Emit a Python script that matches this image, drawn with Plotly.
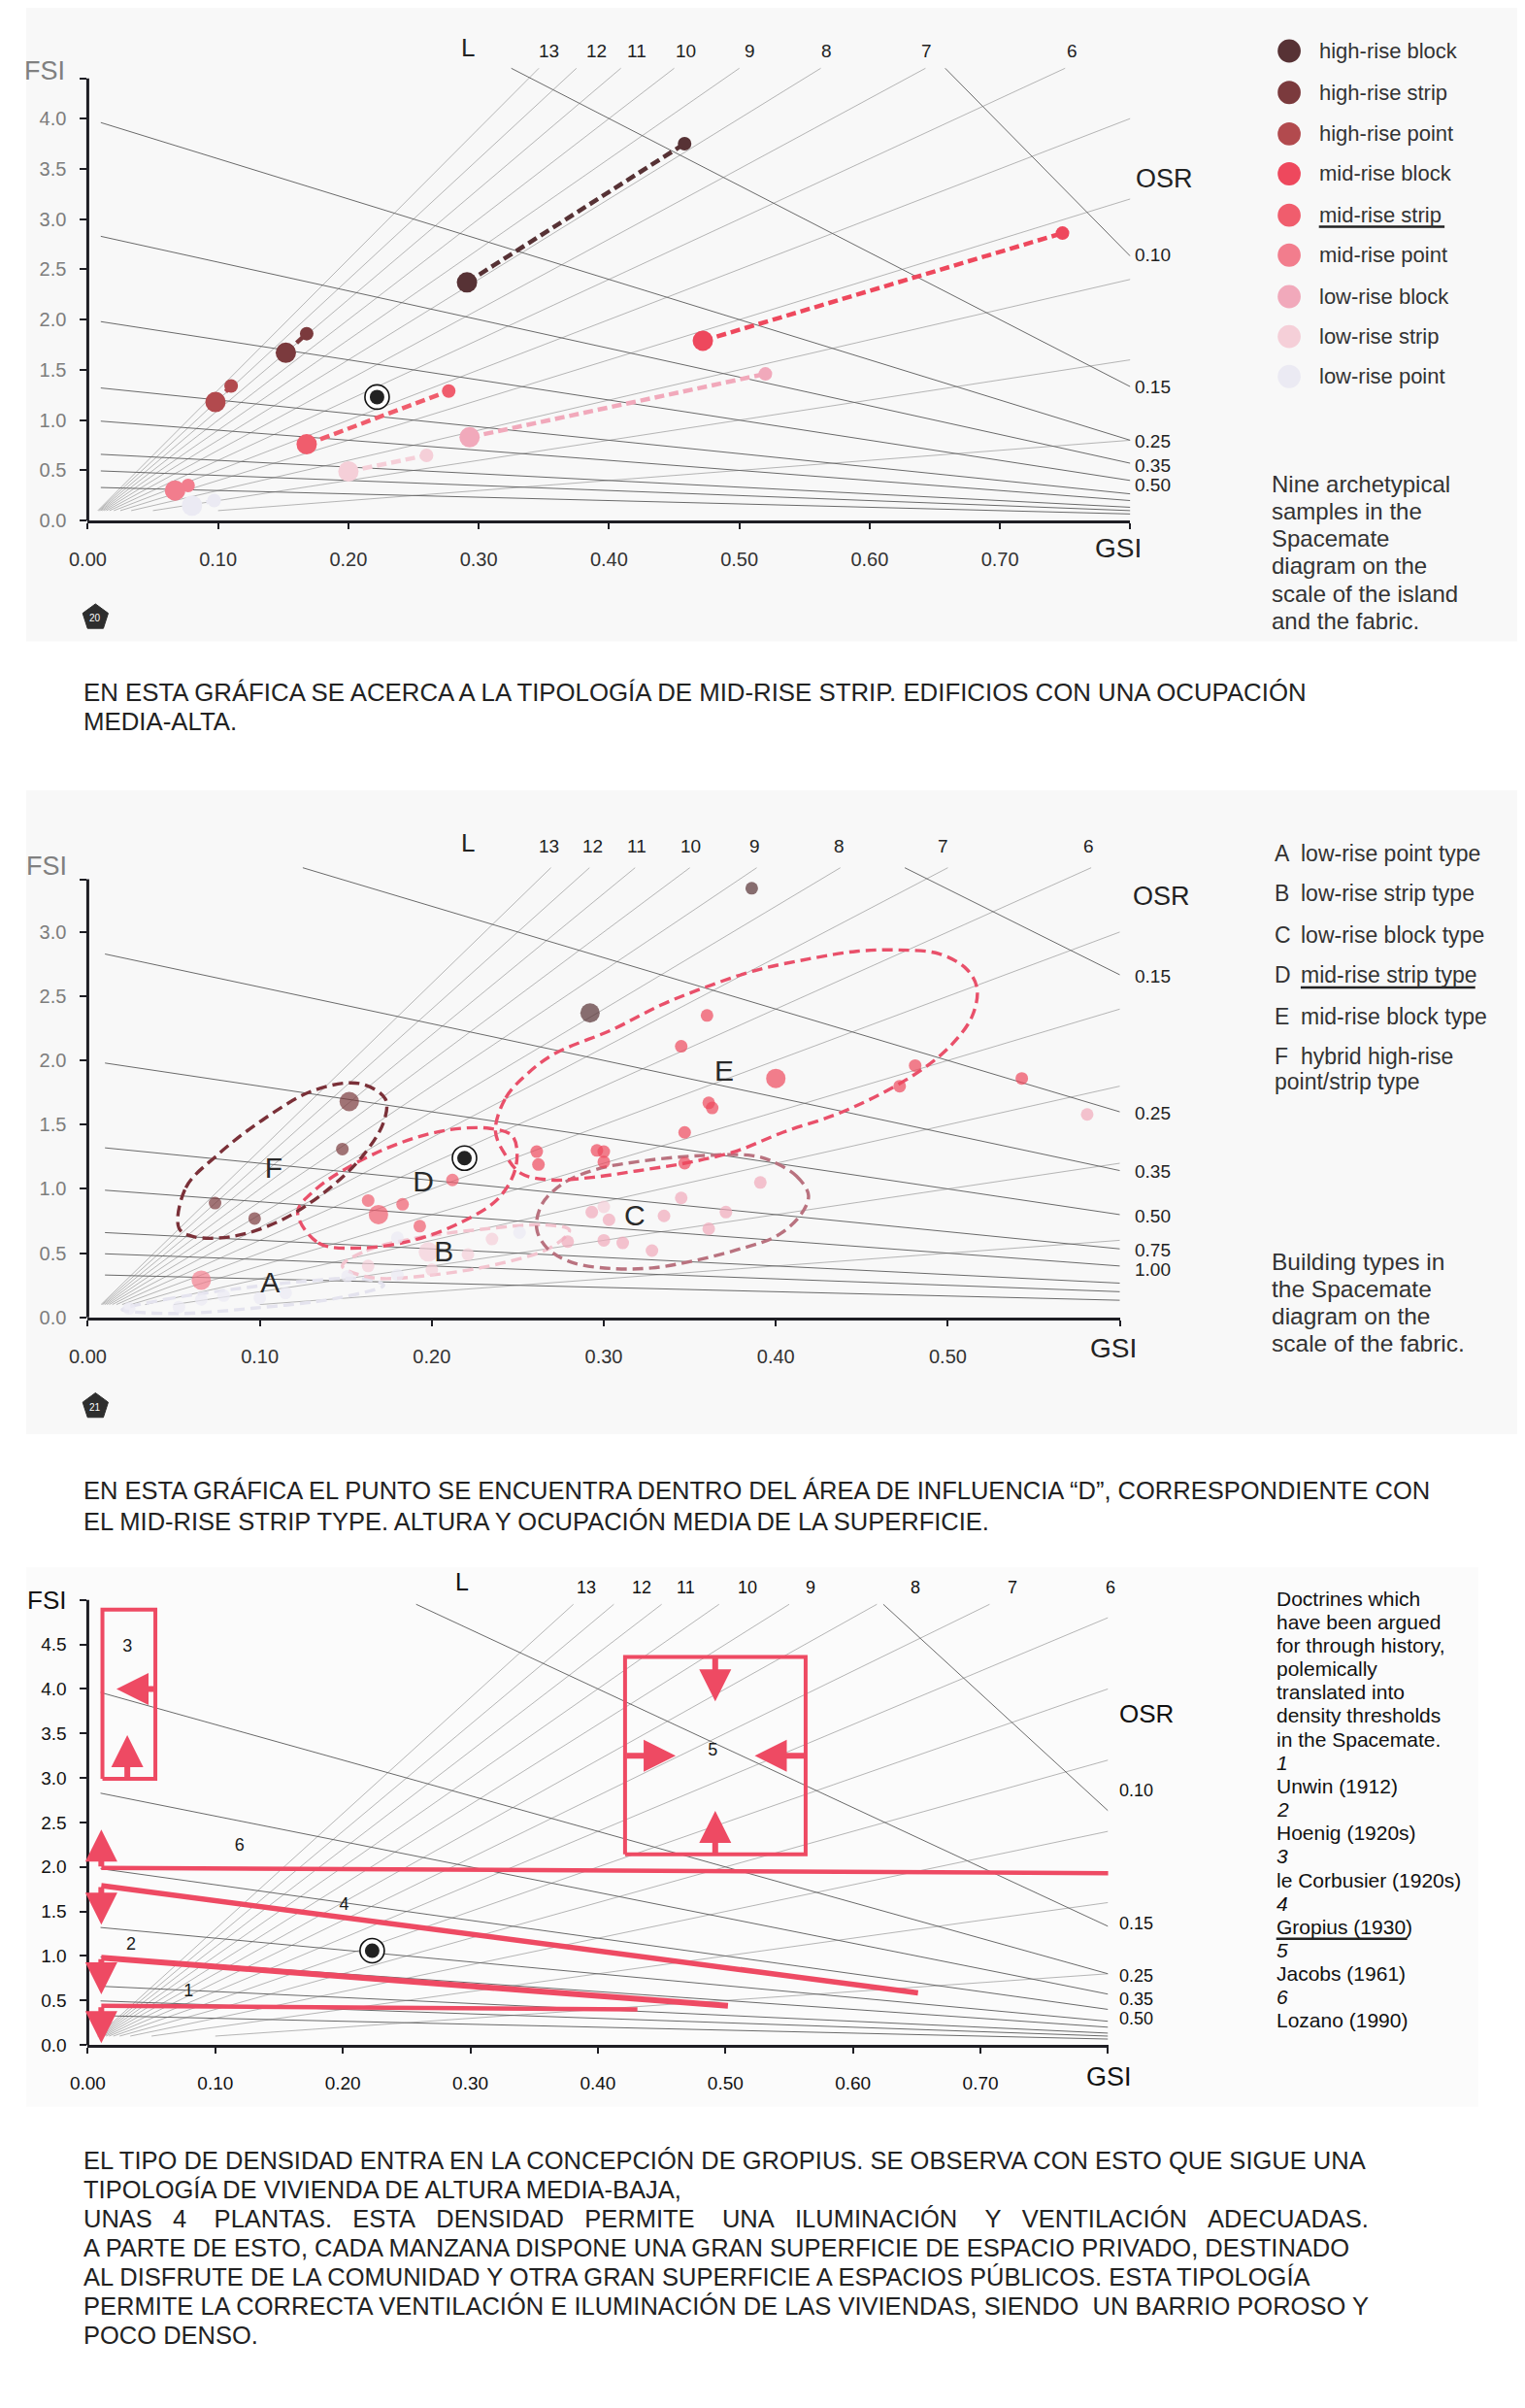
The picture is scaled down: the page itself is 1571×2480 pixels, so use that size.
import numpy as np
import plotly.graph_objects as go

W, H = 1571, 2480
FONT = "Liberation Sans, Arial, Helvetica, sans-serif"

# ======================= DATA =======================
L_VALUES = [1, 2, 3, 4, 5, 6, 7, 8, 9, 10, 11, 12, 13]
L_TOP_LABELS = ["13", "12", "11", "10", "9", "8", "7", "6"]

OSR_P1 = [0.076, 0.15, 0.25, 0.35, 0.50, 0.75, 1.0, 1.5, 2.0, 3.0]
OSR_P2 = [0.15, 0.25, 0.35, 0.50, 0.75, 1.0, 1.5, 2.0, 3.0]
OSR_P3 = [0.076, 0.15, 0.25, 0.35, 0.50, 0.75, 1.0, 1.5, 2.0, 3.0]
OSR_LABELS_P1 = ["0.10", "0.15", "0.25", "0.35", "0.50"]
OSR_LABELS_P2 = ["0.15", "0.25", "0.35", "0.50", "0.75", "1.00"]
OSR_LABELS_P3 = ["0.10", "0.15", "0.25", "0.35", "0.50"]

GSI_TICKS_P1 = [0.0, 0.1, 0.2, 0.3, 0.4, 0.5, 0.6, 0.7, 0.8]
GSI_TICKTEXT_P1 = ["0.00", "0.10", "0.20", "0.30", "0.40", "0.50", "0.60", "0.70", ""]
GSI_TICKS_P2 = [0.0, 0.1, 0.2, 0.3, 0.4, 0.5, 0.6]
GSI_TICKTEXT_P2 = ["0.00", "0.10", "0.20", "0.30", "0.40", "0.50", ""]
FSI_TICKS_P1 = [0.0, 0.5, 1.0, 1.5, 2.0, 2.5, 3.0, 3.5, 4.0, 4.4]
FSI_TICKTEXT_P1 = ["0.0", "0.5", "1.0", "1.5", "2.0", "2.5", "3.0", "3.5", "4.0", ""]
FSI_TICKS_P2 = [0.0, 0.5, 1.0, 1.5, 2.0, 2.5, 3.0, 3.41]
FSI_TICKTEXT_P2 = ["0.0", "0.5", "1.0", "1.5", "2.0", "2.5", "3.0", ""]
FSI_TICKS_P3 = [0.0, 0.5, 1.0, 1.5, 2.0, 2.5, 3.0, 3.5, 4.0, 4.5, 5.0]
FSI_TICKTEXT_P3 = ["0.0", "0.5", "1.0", "1.5", "2.0", "2.5", "3.0", "3.5", "4.0", "4.5", ""]

TYPES = ["high-rise block", "high-rise strip", "high-rise point",
         "mid-rise block", "mid-rise strip", "mid-rise point",
         "low-rise block", "low-rise strip", "low-rise point"]
TYPE_COLORS = ["#573235", "#7b3a3d", "#b24a4e", "#ee485d", "#f05d6d",
               "#f27d8d", "#f1a9bb", "#f5cfd8", "#ebeaf3"]

# Panel 1: nine archetypes, island (large) and fabric (small) scale
P1_GSI_ISLAND = [0.291, 0.152, 0.098, 0.472, 0.168, 0.067, 0.293, 0.200, 0.080]
P1_FSI_ISLAND = [2.37, 1.67, 1.18, 1.79, 0.76, 0.30, 0.83, 0.49, 0.15]
P1_GSI_FABRIC = [0.458, 0.168, 0.110, 0.748, 0.277, 0.077, 0.520, 0.260, 0.097]
P1_FSI_FABRIC = [3.75, 1.86, 1.34, 2.86, 1.29, 0.35, 1.46, 0.65, 0.20]

TARGET_GSI = [0.222, 0.219, 0.223]
TARGET_FSI = [1.23, 1.24, 1.06]

# Panel 2: building samples per type (first entry is the large marker where present)
P2_GSI = [
    [0.292, 0.386],
    [0.152, 0.148, 0.074, 0.097],
    [],
    [0.400, 0.360, 0.345, 0.361, 0.363, 0.347, 0.347, 0.481, 0.472, 0.543,
     0.261, 0.262, 0.296, 0.300, 0.300],
    [0.169, 0.212, 0.163, 0.183, 0.193],
    [0.066],
    [0.391, 0.293, 0.303, 0.279, 0.300, 0.311, 0.345, 0.371, 0.335, 0.361, 0.328, 0.581],
    [0.198, 0.235, 0.221, 0.200, 0.163, 0.300],
    [0.079, 0.251, 0.180, 0.180, 0.151, 0.066, 0.053, 0.024, 0.115, 0.100],
]
P2_FSI = [
    [2.37, 3.34],
    [1.68, 1.31, 0.89, 0.77],
    [],
    [1.86, 2.35, 2.11, 1.67, 1.63, 1.44, 1.20, 1.96, 1.80, 1.86,
     1.29, 1.19, 1.30, 1.29, 1.21],
    [0.80, 1.07, 0.91, 0.88, 0.71],
    [0.29],
    [1.05, 0.82, 0.76, 0.59, 0.60, 0.58, 0.93, 0.82, 0.79, 0.69, 0.52, 1.58],
    [0.51, 0.61, 0.49, 0.37, 0.40, 0.86],
    [0.17, 0.66, 0.62, 0.33, 0.32, 0.14, 0.08, 0.07, 0.19, 0.15],
]
P2_HAS_LARGE = [True, True, False, True, True, True, False, True, False]

# Panel 2: type areas (outline points)
GROUP_NAMES = ["A", "B", "C", "D", "E", "F"]
GROUP_COLORS = ["#e4e3ee", "#f3c4cf", "#b9727f", "#e9506a", "#e9506a", "#7a3038"]
GROUP_GSI = [
    [0.020, 0.045, 0.085, 0.125, 0.160, 0.172, 0.145, 0.095, 0.050],
    [0.148, 0.162, 0.192, 0.232, 0.266, 0.280, 0.270, 0.240, 0.200, 0.165],
    [0.397, 0.412, 0.419, 0.414, 0.400, 0.381, 0.352, 0.328, 0.305, 0.281,
     0.267, 0.261, 0.264, 0.276, 0.295, 0.324, 0.357, 0.386],
    [0.122, 0.134, 0.158, 0.189, 0.217, 0.239, 0.249, 0.247, 0.234, 0.210,
     0.182, 0.153, 0.132],
    [0.237, 0.243, 0.255, 0.271, 0.305, 0.333, 0.359, 0.388, 0.419, 0.447,
     0.471, 0.495, 0.511, 0.517, 0.514, 0.502, 0.485, 0.461, 0.435, 0.404,
     0.376, 0.347, 0.319, 0.293, 0.269, 0.252, 0.243],
    [0.053, 0.057, 0.075, 0.103, 0.132, 0.158, 0.173, 0.172, 0.160, 0.141,
     0.113, 0.084, 0.061],
]
GROUP_FSI = [
    [0.06, 0.14, 0.22, 0.28, 0.30, 0.25, 0.15, 0.07, 0.03],
    [0.40, 0.52, 0.62, 0.69, 0.72, 0.68, 0.55, 0.42, 0.33, 0.31],
    [1.22, 1.10, 0.95, 0.79, 0.63, 0.54, 0.44, 0.385, 0.38, 0.43,
     0.54, 0.69, 0.88, 1.04, 1.15, 1.22, 1.26, 1.26],
    [0.82, 0.58, 0.54, 0.60, 0.74, 0.93, 1.18, 1.41, 1.47, 1.46,
     1.36, 1.18, 0.99],
    [1.45, 1.71, 1.89, 2.05, 2.24, 2.43, 2.57, 2.70, 2.79, 2.85,
     2.86, 2.83, 2.71, 2.56, 2.34, 2.12, 1.93, 1.74, 1.58, 1.44,
     1.29, 1.20, 1.14, 1.09, 1.07, 1.12, 1.26],
    [0.695, 1.01, 1.26, 1.55, 1.77, 1.82, 1.70, 1.52, 1.26, 1.01,
     0.76, 0.63, 0.63],
]
GROUP_LABEL_GSI = [0.106, 0.207, 0.318, 0.195, 0.370, 0.108]
GROUP_LABEL_FSI = [0.25, 0.49, 0.77, 1.04, 1.90, 1.14]
GROUP_LEGEND = ["low-rise point type", "low-rise strip type", "low-rise block type",
                "mid-rise strip type", "mid-rise block type", "hybrid high-rise"]

# Panel 3: doctrines
DOCTRINES = ["Unwin (1912)", "Hoenig (1920s)", "le Corbusier (1920s)",
             "Gropius (1930)", "Jacobs (1961)", "Lozano (1990)"]
DOC_LINE_GSI = [[0.0106, 0.431], [0.0106, 0.502], [0.0106, 0.651], [0.0106, 0.804]]
DOC_LINE_FSI = [[0.44, 0.40], [0.98, 0.44], [1.79, 0.585], [1.99, 1.93]]
DOC_LINE_WIDTH = [4.5, 6.0, 5.5, 4.5]
DOC_RECT_GSI = [[0.0115, 0.053], [0.4213, 0.5629]]   # le Corbusier, Jacobs
DOC_RECT_FSI = [[2.99, 4.89], [2.143, 4.358]]
ARROW_TAIL_GSI = [0.0106, 0.0106, 0.0106, 0.0106, 0.053, 0.031, 0.492, 0.492, 0.4213, 0.5629]
ARROW_TAIL_FSI = [0.44, 0.98, 1.79, 1.99, 4.0, 2.96, 4.358, 2.143, 3.25, 3.25]
ARROW_TIP_GSI = [0.0106, 0.0106, 0.0106, 0.0106, 0.0225, 0.031, 0.492, 0.492, 0.461, 0.523]
ARROW_TIP_FSI = [0.02, 0.57, 1.35, 2.42, 4.0, 3.48, 3.86, 2.63, 3.25, 3.25]
DOC_NUM = ["1", "2", "3", "4", "5", "6"]
DOC_NUM_GSI = [0.079, 0.034, 0.031, 0.201, 0.490, 0.119]
DOC_NUM_FSI = [0.60, 1.12, 4.47, 1.57, 3.30, 2.23]

TEXT1 = ["EN ESTA GRÁFICA SE ACERCA A LA TIPOLOGÍA DE MID-RISE STRIP. EDIFICIOS CON UNA OCUPACIÓN",
         "MEDIA-ALTA."]
TEXT2 = ["EN ESTA GRÁFICA EL PUNTO SE ENCUENTRA DENTRO DEL ÁREA DE INFLUENCIA “D”, CORRESPONDIENTE CON",
         "EL MID-RISE STRIP TYPE. ALTURA Y OCUPACIÓN MEDIA DE LA SUPERFICIE."]
NB = "\u00a0"
JUST_WORDS = ["UNAS", "4", "PLANTAS.", "ESTA", "DENSIDAD", "PERMITE", "UNA",
              "ILUMINACIÓN", "Y", "VENTILACIÓN", "ADECUADAS."]
JUST_GAPS = [3, 4, 3, 3, 3, 4, 3, 4, 3, 3]
just_line = JUST_WORDS[0]
for w_, g_ in zip(JUST_WORDS[1:], JUST_GAPS):
    just_line += NB * g_ + w_
TEXT3 = ["EL TIPO DE DENSIDAD ENTRA EN LA CONCEPCIÓN DE GROPIUS. SE OBSERVA CON ESTO QUE SIGUE UNA",
         "TIPOLOGÍA DE VIVIENDA DE ALTURA MEDIA-BAJA,",
         just_line,
         "A PARTE DE ESTO, CADA MANZANA DISPONE UNA GRAN SUPERFICIE DE ESPACIO PRIVADO, DESTINADO",
         "AL DISFRUTE DE LA COMUNIDAD Y OTRA GRAN SUPERFICIE A ESPACIOS PÚBLICOS. ESTA TIPOLOGÍA",
         "PERMITE LA CORRECTA VENTILACIÓN E ILUMINACIÓN DE LAS VIVIENDAS, SIENDO" + NB + " UN BARRIO POROSO Y",
         "POCO DENSO."]

# ======================= LAYOUT HELPERS =======================
# page offset compensation (the page is shown with an offset)
DX, DY = -26.0, -8.5


def X(px):
    return (px + DX) / W


def Y(py):
    return 1 - (py + DY) / H


annotations = []
shapes = []
fig = go.Figure()


def add_text(text, x, y, size=20, color="#333333", xanchor="left", yanchor="middle"):
    annotations.append(dict(text=text, x=X(x), y=Y(y), xref="paper", yref="paper",
                            showarrow=False, xanchor=xanchor, yanchor=yanchor,
                            font=dict(size=size, color=color, family=FONT)))


PANELS = [
    dict(sfx="", x0=90.2, ux=1359.0, gmax=0.8, y0=539.1, uy=104.0, ymax=4.65,
         ftop=4.5, axtop=4.4, osr=OSR_P1, xt=GSI_TICKS_P1, xtt=GSI_TICKTEXT_P1,
         yt=FSI_TICKS_P1, ytt=FSI_TICKTEXT_P1, tsize=20, ycol="#7d7d7d", xcol="#333333"),
    dict(sfx="2", x0=90.2, ux=1794.0, gmax=0.6, y0=1363.3, uy=132.9, ymax=3.6,
         ftop=3.5, axtop=3.41, osr=OSR_P2, xt=GSI_TICKS_P2, xtt=GSI_TICKTEXT_P2,
         yt=FSI_TICKS_P2, ytt=FSI_TICKTEXT_P2, tsize=20, ycol="#7d7d7d", xcol="#333333"),
    dict(sfx="3", x0=90.2, ux=1330.0, gmax=0.8, y0=2116.0, uy=92.1, ymax=5.1,
         ftop=4.95, axtop=5.0, osr=OSR_P3, xt=GSI_TICKS_P1, xtt=GSI_TICKTEXT_P1,
         yt=FSI_TICKS_P3, ytt=FSI_TICKTEXT_P3, tsize=19, ycol="#111111", xcol="#111111"),
]

# backgrounds (scanned page tone)
for (ya, yb, xb, col) in [(0, 664, W + 40, "#f8f8f8"), (818, 1484, W + 40, "#f8f8f8"),
                          (1622, 2180, 1540, "#fbfbfb")]:
    shapes.append(dict(type="rect", xref="paper", yref="paper", x0=0, x1=X(xb), y0=Y(yb), y1=Y(ya),
                       line=dict(width=0), fillcolor=col, layer="below"))

layout_axes = {}
for p in PANELS:
    s = p["sfx"]
    xa, ya = "x" + s, "y" + s
    ybot = Y(p["y0"])
    ytop = Y(p["y0"] - p["ymax"] * p["uy"])
    layout_axes["xaxis" + s] = dict(
        domain=[X(p["x0"]), X(p["x0"] + p["gmax"] * p["ux"])], range=[0, p["gmax"] + 1e-4], anchor=ya,
        showgrid=False, zeroline=False, showline=True, linewidth=3, linecolor="#1e1e24",
        ticks="outside", ticklen=6, tickwidth=2, tickcolor="#1e1e24",
        tickvals=p["xt"], ticktext=p["xtt"], ticklabelstandoff=14,
        tickfont=dict(size=p["tsize"], color=p["xcol"], family=FONT), fixedrange=True)
    layout_axes["yaxis" + s] = dict(
        domain=[ybot, ytop], range=[0, p["ymax"]], anchor=xa,
        showgrid=False, zeroline=False, showline=False,
        ticks="outside", ticklen=7, tickwidth=2, tickcolor="#1e1e24",
        tickvals=p["yt"], ticktext=p["ytt"], ticklabelstandoff=10,
        tickfont=dict(size=p["tsize"], color=p["ycol"], family=FONT), fixedrange=True)
    shapes.append(dict(type="line", xref="paper", yref="paper", x0=X(p["x0"]), x1=X(p["x0"]),
                       y0=ybot, y1=Y(p["y0"] - p["axtop"] * p["uy"]),
                       line=dict(color="#1e1e24", width=3)))

    # L lines (FSI = L * GSI)
    lx, ly = [], []
    for L in L_VALUES:
        g0 = 0.1 / L
        g1 = min(p["gmax"], p["ftop"] / L)
        lx += [g0, g1, None]
        ly += [L * g0, L * g1, None]
    fig.add_trace(go.Scatter(x=lx, y=ly, xaxis=xa, yaxis=ya, mode="lines",
                             line=dict(color="#adadad", width=0.9), hoverinfo="skip", showlegend=False))
    # OSR lines (FSI = (1 - GSI) / OSR)
    ox, oy = [], []
    for o in p["osr"]:
        g0 = max(0.01, 1 - p["ftop"] * o)
        g1 = p["gmax"]
        ox += [g0, g1, None]
        oy += [(1 - g0) / o, (1 - g1) / o, None]
    fig.add_trace(go.Scatter(x=ox, y=oy, xaxis=xa, yaxis=ya, mode="lines",
                             line=dict(color="#6a6a6a", width=1.0), hoverinfo="skip", showlegend=False))

# ---------------- Panel 1 marks ----------------
for i, t in enumerate(TYPES):
    fig.add_trace(go.Scatter(x=[P1_GSI_ISLAND[i], P1_GSI_FABRIC[i]], y=[P1_FSI_ISLAND[i], P1_FSI_FABRIC[i]],
                             xaxis="x", yaxis="y", mode="lines",
                             line=dict(color=TYPE_COLORS[i], width=4.5, dash="10px,5px"),
                             hoverinfo="skip", showlegend=False))
for i, t in enumerate(TYPES):
    fig.add_trace(go.Scatter(x=[P1_GSI_FABRIC[i]], y=[P1_FSI_FABRIC[i]], xaxis="x", yaxis="y",
                             mode="markers", marker=dict(size=14, color=TYPE_COLORS[i], line=dict(width=0)),
                             name=t, showlegend=False))
    fig.add_trace(go.Scatter(x=[P1_GSI_ISLAND[i]], y=[P1_FSI_ISLAND[i]], xaxis="x", yaxis="y",
                             mode="markers", marker=dict(size=21, color=TYPE_COLORS[i], line=dict(width=0)),
                             name=t, showlegend=False))

# ---------------- Panel 2 marks ----------------
for k in range(len(GROUP_NAMES)):
    gx = GROUP_GSI[k] + [GROUP_GSI[k][0]]
    gy = GROUP_FSI[k] + [GROUP_FSI[k][0]]
    fig.add_trace(go.Scatter(x=gx, y=gy, xaxis="x2", yaxis="y2", mode="lines",
                             line=dict(color=GROUP_COLORS[k], width=3.4, dash="11px,6px",
                                       shape="spline", smoothing=1.0),
                             hoverinfo="skip", showlegend=False))
for i, t in enumerate(TYPES):
    gs, fs = P2_GSI[i], P2_FSI[i]
    if not gs:
        continue
    sizes = [13] * len(gs)
    if P2_HAS_LARGE[i]:
        sizes[0] = 20
    fig.add_trace(go.Scatter(x=gs, y=fs, xaxis="x2", yaxis="y2", mode="markers",
                             marker=dict(size=sizes, color=TYPE_COLORS[i], line=dict(width=0)),
                             name=t, showlegend=False))
fig.add_trace(go.Scatter(x=GROUP_LABEL_GSI, y=GROUP_LABEL_FSI, xaxis="x2", yaxis="y2", mode="text",
                         text=GROUP_NAMES, textfont=dict(size=30, color="#2a2a2a", family=FONT),
                         hoverinfo="skip", showlegend=False))

# ---------------- Panel 3 marks ----------------
RED = "#ee4a63"
for k in range(len(DOC_LINE_GSI)):
    fig.add_trace(go.Scatter(x=DOC_LINE_GSI[k], y=DOC_LINE_FSI[k], xaxis="x3", yaxis="y3", mode="lines",
                             line=dict(color=RED, width=DOC_LINE_WIDTH[k]), hoverinfo="skip", showlegend=False))
for k in range(len(DOC_RECT_GSI)):
    g0, g1 = DOC_RECT_GSI[k]
    f0, f1 = DOC_RECT_FSI[k]
    fig.add_trace(go.Scatter(x=[g0, g1, g1, g0, g0], y=[f0, f0, f1, f1, f0], xaxis="x3", yaxis="y3",
                             mode="lines", line=dict(color=RED, width=4), hoverinfo="skip", showlegend=False))
for k in range(len(ARROW_TAIL_GSI)):
    annotations.append(dict(x=ARROW_TIP_GSI[k], y=ARROW_TIP_FSI[k], ax=ARROW_TAIL_GSI[k], ay=ARROW_TAIL_FSI[k],
                            xref="x3", yref="y3", axref="x3", ayref="y3", text="", showarrow=True,
                            arrowhead=2, arrowsize=1.1, arrowwidth=6, arrowcolor=RED,
                            standoff=0, startstandoff=0))
fig.add_trace(go.Scatter(x=DOC_NUM_GSI, y=DOC_NUM_FSI, xaxis="x3", yaxis="y3", mode="text",
                         text=DOC_NUM, textfont=dict(size=18, color="#1a1a1a", family=FONT),
                         hoverinfo="skip", showlegend=False))

# target point on all three panels
for j, s in enumerate(["", "2", "3"]):
    fig.add_trace(go.Scatter(x=[TARGET_GSI[j]], y=[TARGET_FSI[j]], xaxis="x" + s, yaxis="y" + s,
                             mode="markers", marker=dict(size=25, color="white", line=dict(color="#111", width=1.6)),
                             hoverinfo="skip", showlegend=False))
    fig.add_trace(go.Scatter(x=[TARGET_GSI[j]], y=[TARGET_FSI[j]], xaxis="x" + s, yaxis="y" + s,
                             mode="markers", marker=dict(size=15, color="#222"),
                             hoverinfo="skip", showlegend=False))

# ======================= TEXT =======================
# panel 1
add_text("FSI", 45, 74, 27, "#808080", "center")
add_text("GSI", 1165, 567, 28, "#222", "center")
add_text("OSR", 1181, 185, 27, "#222", "left")
add_text("L", 487, 50, 26, "#222", "center")
for t, xp in zip(L_TOP_LABELS, [571.5, 621, 662.7, 713.9, 781, 861, 965, 1116.8]):
    add_text(t, xp, 53, 19, "#222", "center")
for t, yp in zip(OSR_LABELS_P1, [264.4, 401, 456.6, 482, 502.6]):
    add_text(t, 1180, yp, 19, "#222", "left")
for i, (t, yp) in enumerate(zip(TYPES, [53.2, 96.1, 139, 180.2, 223.1, 264.4, 307.3, 348.6, 389.9])):
    r = 12
    shapes.append(dict(type="circle", xref="paper", yref="paper", x0=X(1343 - r), x1=X(1343 + r),
                       y0=Y(yp + r), y1=Y(yp - r), fillcolor=TYPE_COLORS[i], line=dict(width=0)))
    add_text(t, 1372, yp, 22, "#333")
shapes.append(dict(type="line", xref="paper", yref="paper", x0=X(1374), x1=X(1505), y0=Y(235), y1=Y(235),
                   line=dict(color="#222", width=2.5)))
for k, ln in enumerate(["Nine archetypical", "samples in the", "Spacemate", "diagram on the",
                        "scale of the island", "and the fabric."]):
    add_text(ln, 1323, 501 + k * 28.3, 24, "#333")
for k, ln in enumerate(TEXT1):
    add_text(ln, 84, 717 + k * 30.2, 25.8, "#222")

# panel 2
add_text("FSI", 47, 896, 27, "#808080", "center")
add_text("GSI", 1160, 1395, 28, "#222", "center")
add_text("OSR", 1209.5, 928, 27, "#222", "center")
add_text("L", 487, 872.6, 26, "#222", "center")
for t, xp in zip(L_TOP_LABELS, [571.5, 616.3, 662.7, 718.7, 785.8, 873.7, 982.5, 1134.4]):
    add_text(t, xp, 875.8, 19, "#222", "center")
for t, yp in zip(OSR_LABELS_P2, [1010.8, 1152.1, 1212.5, 1258.5, 1293.4, 1314.1]):
    add_text(t, 1180, yp, 19, "#222", "left")
for k, (g, t, yp) in enumerate(zip(GROUP_NAMES, GROUP_LEGEND, [883.7, 925, 967.9, 1009.2, 1052.1, 1093.3])):
    add_text(g, 1326, yp, 23, "#333")
    add_text(t, 1353, yp, 23, "#333")
add_text("point/strip type", 1326, 1119, 23, "#333")
shapes.append(dict(type="line", xref="paper", yref="paper", x0=X(1355), x1=X(1537), y0=Y(1022), y1=Y(1022),
                   line=dict(color="#222", width=2.5)))
for k, ln in enumerate(["Building types in", "the Spacemate", "diagram on the", "scale of the fabric."]):
    add_text(ln, 1323, 1306 + k * 28.1, 24.5, "#333")
for k, ln in enumerate(TEXT2):
    add_text(ln, 84, 1542.7 + k * 31.8, 25.5, "#222")

# panel 3
add_text("FSI", 47, 1655.5, 26, "#111", "center")
add_text("GSI", 1155, 2149, 27, "#111", "center")
add_text("OSR", 1164, 1773, 26, "#111", "left")
add_text("L", 480.4, 1636.4, 25, "#111", "center")
for t, xp in zip(L_TOP_LABELS, [609.9, 667.5, 713.9, 777.8, 843.4, 953.7, 1054.4, 1156.8]):
    add_text(t, xp, 1642.8, 18, "#111", "center")
for t, yp in zip(OSR_LABELS_P3, [1852.4, 1990.6, 2044.6, 2068.4, 2089]):
    add_text(t, 1164, yp, 18, "#111", "left")
p3_lines = ["Doctrines which", "have been argued", "for through history,", "polemically",
            "translated into", "density thresholds", "in the Spacemate."]
for k, d in enumerate(DOCTRINES):
    p3_lines += ["<i>" + DOC_NUM[k] + "</i>", d]
for k, ln in enumerate(p3_lines):
    add_text(ln, 1328, 1654 + k * 24.26, 21, "#111")
shapes.append(dict(type="line", xref="paper", yref="paper", x0=X(1329.5), x1=X(1466), y0=Y(2006), y1=Y(2006),
                   line=dict(color="#222", width=2.5)))
for k, ln in enumerate(TEXT3):
    add_text(ln, 84, 2235.1 + k * 30.17, 25.5, "#222")

# page badges
for (cx, cy, lab) in [(98.2, 639.2, "20"), (98.2, 1455.4, "21")]:
    r = 14
    pts = []
    for k in range(5):
        a = np.deg2rad(-90 + 72 * k)
        pts.append((cx + r * np.cos(a), cy + r * np.sin(a)))
    path = "M " + " L ".join(f"{X(px_):.5f},{Y(py_):.5f}" for px_, py_ in pts) + " Z"
    shapes.append(dict(type="path", xref="paper", yref="paper", path=path,
                       fillcolor="#2e2e2e", line=dict(color="#2e2e2e", width=1)))
    add_text(lab, cx, cy + 1, 10, "white", "center")

fig.update_layout(
    width=W, height=H, margin=dict(l=0, r=0, t=0, b=0),
    paper_bgcolor="white", plot_bgcolor="rgba(0,0,0,0)",
    showlegend=False, annotations=annotations, shapes=shapes,
    font=dict(family=FONT), **layout_axes)

fig.write_html("out.html")
